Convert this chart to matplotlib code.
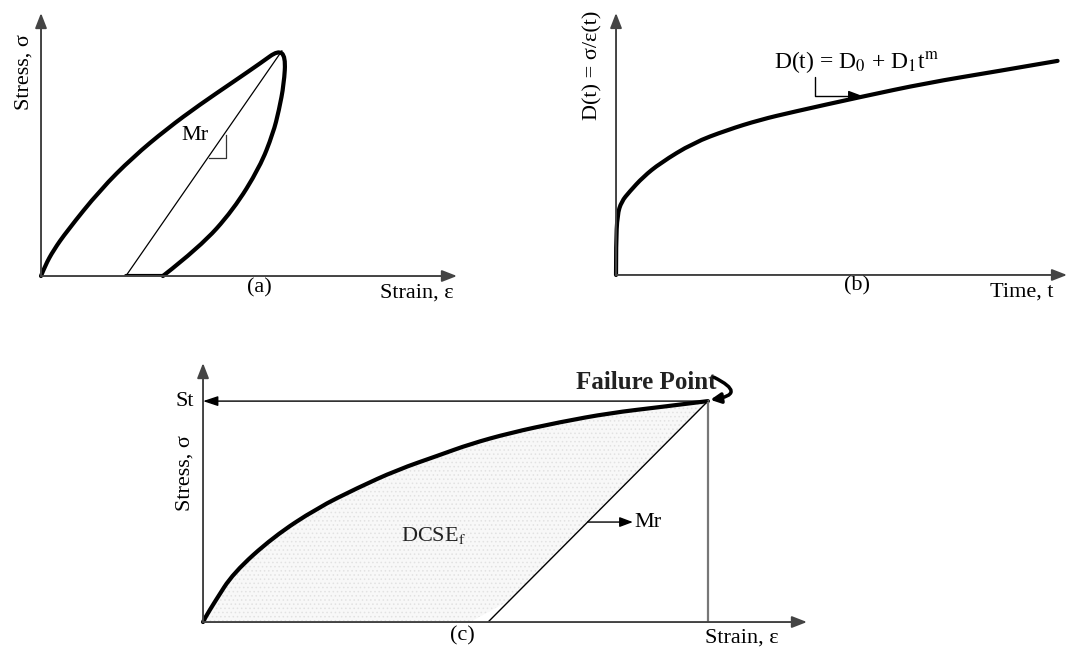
import numpy as np
import matplotlib
matplotlib.use("Agg")
import matplotlib.pyplot as plt
from matplotlib.path import Path
from matplotlib.patches import PathPatch

plt.rcParams['font.family'] = ['Liberation Serif', 'DejaVu Serif']
plt.rcParams['mathtext.fontset'] = 'stix'
plt.rcParams['hatch.linewidth'] = 0.6

# (a) resilient modulus loop, strain / stress as fractions of the axis length
loop_strain = [0.0, 0.010, 0.030, 0.062, 0.142, 0.221, 0.303, 0.382, 0.462, 0.530,
               0.570, 0.588, 0.584, 0.572, 0.558, 0.526, 0.462, 0.382, 0.293]
loop_stress = [0.0, 0.040, 0.098, 0.170, 0.327, 0.452, 0.560, 0.652, 0.738, 0.812,
               0.858, 0.835, 0.730, 0.630, 0.543, 0.414, 0.251, 0.110, 0.0]
base_strain = [0.293, 0.204]
mr_a_strain = [0.204, 0.579]
mr_a_stress = [0.0, 0.856]
tri_strain = [0.404, 0.445, 0.445]
tri_stress = [0.449, 0.449, 0.536]

# (b) creep compliance curve
time_t = [0.0, 0.0, 0.003, 0.012, 0.030, 0.060, 0.098, 0.171, 0.246, 0.319,
          0.392, 0.541, 0.690, 0.837, 0.979]
comp_d = [0.0, 0.120, 0.230, 0.280, 0.318, 0.374, 0.427, 0.504, 0.553, 0.592,
          0.622, 0.679, 0.733, 0.775, 0.817]

# (c) stress-strain curve up to failure
fail_strain = [0.0, 0.003, 0.020, 0.050, 0.116, 0.189, 0.255, 0.321, 0.392, 0.442,
               0.508, 0.591, 0.674, 0.757, 0.836]
fail_stress = [0.0, 0.015, 0.080, 0.189, 0.328, 0.440, 0.517, 0.587, 0.645, 0.687,
               0.730, 0.772, 0.807, 0.830, 0.853]
mr_c_strain = [0.472, 0.836]
mr_c_stress = [0.0, 0.853]
st_value = 0.853

fig = plt.figure(figsize=(10.68, 6.47), dpi=100)
fs = 16
axis_col = '#444444'


def draw_axes(ax):
    ax.set_xlim(0, 1)
    ax.set_ylim(0, 1)
    ax.axis('off')
    arrow = dict(arrowstyle='-|>,head_length=0.9,head_width=0.35', color=axis_col,
                 lw=1.4, shrinkA=0, shrinkB=0)
    ax.annotate('', xy=(1, 0), xytext=(0, 0), arrowprops=arrow, annotation_clip=False)
    ax.annotate('', xy=(0, 1), xytext=(0, 0), arrowprops=arrow, annotation_clip=False)


def smooth_curve(ax, xs, ys, lw=3.0):
    # quadratic bezier through the midpoints, read points act as controls
    pts = np.column_stack([xs, ys])
    verts = [pts[0]]
    codes = [Path.MOVETO]
    n = len(pts)
    for i in range(1, n - 1):
        end = pts[-1] if i == n - 2 else (pts[i] + pts[i + 1]) / 2
        verts += [pts[i], end]
        codes += [Path.CURVE3, Path.CURVE3]
    patch = PathPatch(Path(verts, codes), fill=False, lw=lw, edgecolor='black',
                      capstyle='round', joinstyle='round', clip_on=False)
    ax.add_patch(patch)


# panel (a)
ax_a = fig.add_axes([0.0384, 0.5734, 0.3895, 0.4065])
draw_axes(ax_a)
smooth_curve(ax_a, loop_strain, loop_stress)
ax_a.plot(base_strain, [0, 0], color='black', lw=3.0, solid_capstyle='round')
ax_a.plot(mr_a_strain, mr_a_stress, color='black', lw=0.9)
ax_a.plot(tri_strain, tri_stress, color='#333333', lw=0.9)
ax_a.text(0.370, 0.536, 'Mr', fontsize=fs, ha='center', va='center')
ax_a.text(0.526, -0.046, '(a)', fontsize=fs, ha='center', va='center', clip_on=False)
ax_a.text(0.904, -0.066, 'Strain, ε', fontsize=fs, ha='center', va='center', clip_on=False)
ax_a.text(-0.041, 0.776, 'Stress, σ', fontsize=fs, ha='center', va='center',
          rotation=90, clip_on=False)

# panel (b)
ax_b = fig.add_axes([0.5768, 0.575, 0.4223, 0.405])
draw_axes(ax_b)
smooth_curve(ax_b, time_t, comp_d)
ax_b.text(0.534, 0.809, r'D(t) = D$_0$ + D$_1$t$^{\mathrm{m}}$', fontsize=fs + 1,
          ha='center', va='center')
ax_b.annotate('', xy=(0.545, 0.684), xytext=(0.441, 0.755),
              arrowprops=dict(arrowstyle='-|>,head_length=0.8,head_width=0.3', color='black',
                              lw=1.0, shrinkA=0, shrinkB=0,
                              connectionstyle='angle,angleA=-90,angleB=0,rad=0'))
ax_b.text(0.534, -0.040, '(b)', fontsize=fs, ha='center', va='center', clip_on=False)
ax_b.text(0.900, -0.066, 'Time, t', fontsize=fs, ha='center', va='center', clip_on=False)
ax_b.text(-0.051, 0.80, 'D(t) = σ/ε(t)', fontsize=fs, ha='center', va='center',
          rotation=90, clip_on=False)

# panel (c)
ax_c = fig.add_axes([0.1901, 0.0386, 0.5655, 0.4003])
draw_axes(ax_c)
fx = np.array(fail_strain)
fy = np.array(fail_stress)
slope = (mr_c_stress[1] - mr_c_stress[0]) / (mr_c_strain[1] - mr_c_strain[0])
lower = np.clip((fx - mr_c_strain[0]) * slope, 0, None)
ax_c.fill_between(fx, lower, fy, facecolor='#f8f8f8', edgecolor='#e2e2e2',
                  hatch='....', lw=0)
smooth_curve(ax_c, fail_strain, fail_stress)
ax_c.plot(mr_c_strain, mr_c_stress, color='black', lw=1.0)
ax_c.plot([mr_c_strain[1], mr_c_strain[1]], [0, st_value], color='#777777', lw=1.6)
ax_c.annotate('', xy=(0.0, st_value), xytext=(mr_c_strain[1], st_value),
              arrowprops=dict(arrowstyle='-|>,head_length=0.9,head_width=0.3', color='black',
                              lw=1.0, shrinkA=0, shrinkB=0))
mr_y = 0.386
mr_x = mr_c_strain[0] + mr_y / slope
ax_c.annotate('', xy=(mr_x + 0.075, mr_y), xytext=(mr_x, mr_y),
              arrowprops=dict(arrowstyle='-|>,head_length=0.8,head_width=0.3', color='black',
                              lw=1.0, shrinkA=0, shrinkB=0))
ax_c.text(mr_x + 0.078, mr_y, 'Mr', fontsize=fs, ha='left', va='center')
ax_c.text(0.381, 0.336, r'DCSE$_{\mathrm{f}}$', fontsize=fs, ha='center', va='center',
          color='#222222')
ax_c.text(0.850, 0.925, 'Failure Point', fontsize=18, fontweight='bold', ha='right',
          va='center', clip_on=False, color='#222222')
ax_c.annotate('', xy=(mr_c_strain[1] + 0.004, st_value + 0.005),
              xytext=(mr_c_strain[1] + 0.010, 0.945),
              arrowprops=dict(arrowstyle='-|>,head_length=0.6,head_width=0.3', color='black',
                              lw=2.5, shrinkA=0, shrinkB=0,
                              connectionstyle='arc3,rad=-1.6'),
              annotation_clip=False)
ax_c.text(-0.031, st_value, 'St', fontsize=fs, ha='center', va='center', clip_on=False)
ax_c.text(-0.030, 0.575, 'Stress, σ', fontsize=fs, ha='center', va='center',
          rotation=90, clip_on=False)
ax_c.text(0.430, -0.052, '(c)', fontsize=fs, ha='center', va='center', clip_on=False)
ax_c.text(0.892, -0.060, 'Strain, ε', fontsize=fs, ha='center', va='center', clip_on=False)

fig.savefig('out.png', dpi=100)
